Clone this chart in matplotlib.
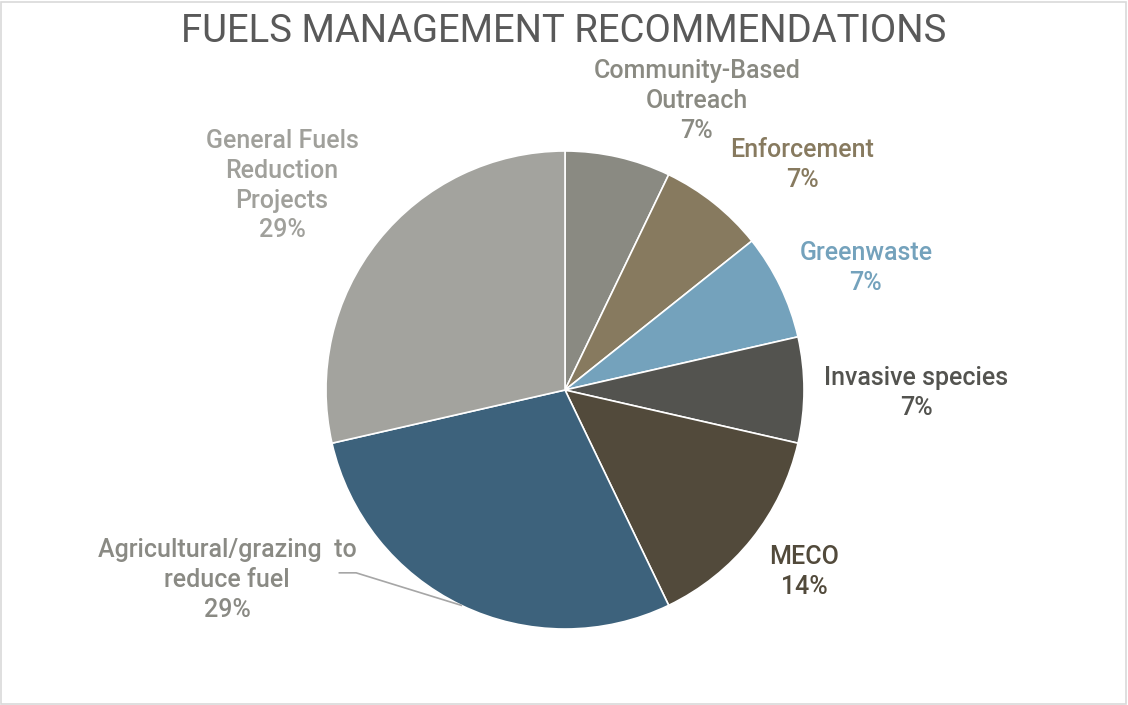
import numpy as np
import matplotlib
matplotlib.use("Agg")
import matplotlib.pyplot as plt
from matplotlib.patches import Rectangle

plt.rcParams['font.family'] = ['Roboto', 'DejaVu Sans']

title = "FUELS MANAGEMENT RECOMMENDATIONS"
categories = ["Community-Based\nOutreach", "Enforcement", "Greenwaste",
              "Invasive species", "MECO", "Agricultural/grazing  to\nreduce fuel",
              "General Fuels\nReduction\nProjects"]
counts = [1, 1, 1, 1, 2, 4, 4]
slice_colors = ["#8a8a82", "#877a5f", "#74a2bc", "#53534f", "#524a3b", "#3d627c", "#a3a39e"]
label_colors = ["#8a8a82", "#877a5f", "#74a2bc", "#53534f", "#524a3b", "#8a8a84", "#a0a09b"]
# label block centres in pie-radius units
label_pos = [(0.552, 1.209), (0.992, 0.941), (1.259, 0.510), (1.469, -0.013),
             (1.000, -0.762), (-1.414, -0.795), (-1.184, 0.854)]

W, H = 1128, 705
fig = plt.figure(figsize=(W / 100, H / 100), dpi=100)
fig.patch.set_facecolor("white")
fig.add_artist(Rectangle((1 / W, 1 / H), 1 - 3 / W, 1 - 3 / H, transform=fig.transFigure,
                         fill=False, edgecolor="#d9d9d9", linewidth=1.2))

cx, cy, r = 565, 390, 239
ax = fig.add_axes([(cx - r) / W, (H - cy - r) / H, 2 * r / W, 2 * r / H])

wedges, _ = ax.pie(counts, colors=slice_colors, startangle=90, counterclock=False,
                   radius=1, wedgeprops=dict(edgecolor="white", linewidth=1.2))
ax.set_xlim(-1, 1)
ax.set_ylim(-1, 1)
ax.set_aspect("equal")
ax.axis("off")

total = sum(counts)
for i, (name, c) in enumerate(zip(categories, counts)):
    pct = round(100 * c / total)
    x, y = label_pos[i]
    ax.text(x, y, f"{name}\n{pct}%", ha="center", va="center", fontsize=18,
            color=label_colors[i], linespacing=1.3, fontweight="medium", clip_on=False)

# leader line for the agricultural label
w = wedges[5]
mid = np.deg2rad((w.theta1 + w.theta2) / 2)
ex, ey = np.cos(mid), np.sin(mid)
lx, ly = label_pos[5]
ax.plot([lx + 0.47, lx + 0.54, ex], [ly + 0.03, ly + 0.03, ey], color="#a6a6a6",
        linewidth=1.2, clip_on=False)

fig.text(0.5, 1 - 32 / H, title, ha="center", va="center", fontsize=27.5, color="#595959")

fig.savefig("out.png", dpi=100)
